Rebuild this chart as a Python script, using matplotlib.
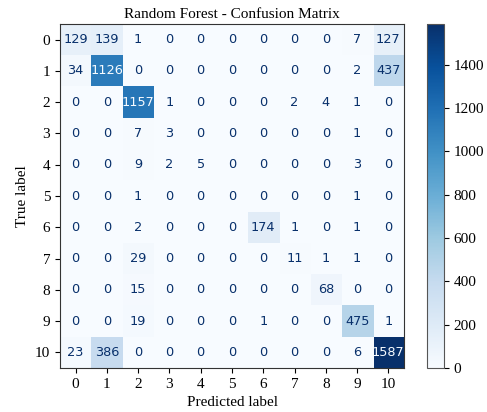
import numpy as np
import matplotlib
matplotlib.use("Agg")
import matplotlib.pyplot as plt

labels = [str(i) for i in range(11)]
row0 = [129, 139, 1, 0, 0, 0, 0, 0, 0, 7, 127]
row1 = [34, 1126, 0, 0, 0, 0, 0, 0, 0, 2, 437]
row2 = [0, 0, 1157, 1, 0, 0, 0, 2, 4, 1, 0]
row3 = [0, 0, 7, 3, 0, 0, 0, 0, 0, 1, 0]
row4 = [0, 0, 9, 2, 5, 0, 0, 0, 0, 3, 0]
row5 = [0, 0, 1, 0, 0, 0, 0, 0, 0, 1, 0]
row6 = [0, 0, 2, 0, 0, 0, 174, 1, 0, 1, 0]
row7 = [0, 0, 29, 0, 0, 0, 0, 11, 1, 1, 0]
row8 = [0, 0, 15, 0, 0, 0, 0, 0, 68, 0, 0]
row9 = [0, 0, 19, 0, 0, 0, 1, 0, 0, 475, 1]
row10 = [23, 386, 0, 0, 0, 0, 0, 0, 0, 6, 1587]
cbar_ticks = [0, 200, 400, 600, 800, 1000, 1200, 1400]

cm = np.array([row0, row1, row2, row3, row4, row5, row6, row7, row8, row9, row10])

serif = "Liberation Serif"
fig = plt.figure(figsize=(4.87, 4.12), dpi=100)
W, H = 487, 412
ax = fig.add_axes([60 / W, 1 - 368 / H, 344 / W, 344 / H])
cax = fig.add_axes([427 / W, 1 - 368 / H, 17 / W, 344 / H])

cmap = plt.get_cmap("Blues")
im = ax.imshow(cm, cmap=cmap, interpolation="nearest", aspect="auto",
               vmin=cm.min(), vmax=cm.max())
thresh = (cm.max() + cm.min()) / 2.0
cmap_min, cmap_max = cmap(0.0), cmap(1.0)
n = cm.shape[0]
for i in range(n):
    for j in range(n):
        color = cmap_max if cm[i, j] < thresh else cmap_min
        ax.text(j, i, str(cm[i, j]), ha="center", va="center",
                color=color, fontsize=9.3, family="DejaVu Sans")

ax.set_xticks(range(n))
ax.set_yticks(range(n))
ax.set_xticklabels(labels, family=serif, fontsize=11)
ax.set_yticklabels(labels, family=serif, fontsize=11)
ax.set_xlabel("Predicted label", family=serif, fontsize=11)
ax.set_ylabel("True label", family=serif, fontsize=11)
ax.set_title("Random Forest - Confusion Matrix", family=serif, fontsize=11, pad=4)
for s in ax.spines.values():
    s.set_color("#333333")

cb = fig.colorbar(im, cax=cax)
cb.set_ticks(cbar_ticks)
cb.ax.set_yticklabels([str(t) for t in cbar_ticks], family=serif, fontsize=11)
cb.outline.set_edgecolor("#555555")

fig.savefig("out.png", dpi=100)
